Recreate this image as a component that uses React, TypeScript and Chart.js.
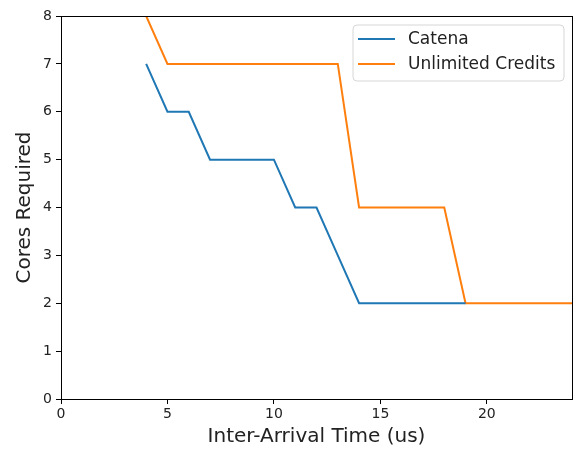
import React, { useEffect, useRef } from "react";
import { Chart, registerables } from "chart.js";

Chart.register(...registerables);

const catenaX = [4, 5, 6, 7, 8, 9, 10, 11, 12, 13, 14, 15, 16, 17, 18, 19];
const catenaY = [7, 6, 6, 5, 5, 5, 5, 4, 4, 3, 2, 2, 2, 2, 2, 2];
const unlimitedX = [4, 5, 6, 7, 8, 9, 10, 11, 12, 13, 14, 15, 16, 17, 18, 19, 20, 21, 22, 23, 24];
const unlimitedY = [8, 7, 7, 7, 7, 7, 7, 7, 7, 7, 4, 4, 4, 4, 4, 2, 2, 2, 2, 2, 2];
const seriesLabels = ["Catena", "Unlimited Credits"];
const seriesColors = ["#1f77b4", "#ff7f0e"];
const xTicks = [0, 5, 10, 15, 20];
const yTicks = [0, 1, 2, 3, 4, 5, 6, 7, 8];
const xTitle = "Inter-Arrival Time (us)";
const yTitle = "Cores Required";

const FONT = "'DejaVu Sans', sans-serif";

const framePlugin = {
  id: "frame",
  afterDraw(chart: any) {
    const { ctx, chartArea } = chart;
    ctx.save();
    ctx.strokeStyle = "#000";
    ctx.lineWidth = 1;
    ctx.strokeRect(
      Math.round(chartArea.left) + 0.5,
      Math.round(chartArea.top) + 0.5,
      Math.round(chartArea.right - chartArea.left),
      Math.round(chartArea.bottom - chartArea.top)
    );
    // legend
    const bx = 353, by = 25, bw = 211, bh = 56, r = 4;
    ctx.beginPath();
    ctx.moveTo(bx + r, by);
    ctx.lineTo(bx + bw - r, by);
    ctx.arcTo(bx + bw, by, bx + bw, by + r, r);
    ctx.lineTo(bx + bw, by + bh - r);
    ctx.arcTo(bx + bw, by + bh, bx + bw - r, by + bh, r);
    ctx.lineTo(bx + r, by + bh);
    ctx.arcTo(bx, by + bh, bx, by + bh - r, r);
    ctx.lineTo(bx, by + r);
    ctx.arcTo(bx, by, bx + r, by, r);
    ctx.closePath();
    ctx.fillStyle = "rgba(255,255,255,0.8)";
    ctx.fill();
    ctx.strokeStyle = "#d6d6d6";
    ctx.lineWidth = 1;
    ctx.stroke();
    ctx.font = `17px ${FONT}`;
    ctx.textBaseline = "middle";
    const rows = [39, 64];
    seriesLabels.forEach((lab, i) => {
      ctx.strokeStyle = seriesColors[i];
      ctx.lineWidth = 2;
      ctx.beginPath();
      ctx.moveTo(358, rows[i]);
      ctx.lineTo(395, rows[i]);
      ctx.stroke();
      ctx.fillStyle = "#222";
      ctx.fillText(lab, 408, rows[i] + 1);
    });
    ctx.restore();
  },
};

export default function App() {
  const ref = useRef<HTMLCanvasElement>(null);
  useEffect(() => {
    if (!ref.current) return;
    const chart = new Chart(ref.current, {
      type: "scatter",
      data: {
        datasets: [
          {
            label: seriesLabels[0],
            data: catenaX.map((x, i) => ({ x, y: catenaY[i] })),
            borderColor: seriesColors[0],
            backgroundColor: seriesColors[0],
            showLine: true,
            borderWidth: 2,
            pointRadius: 0,
            tension: 0,
          },
          {
            label: seriesLabels[1],
            data: unlimitedX.map((x, i) => ({ x, y: unlimitedY[i] })),
            borderColor: seriesColors[1],
            backgroundColor: seriesColors[1],
            showLine: true,
            borderWidth: 2,
            pointRadius: 0,
            tension: 0,
          },
        ],
      },
      options: {
        animation: false,
        responsive: false,
        devicePixelRatio: 1,
        layout: { padding: { top: 16, right: 5, left: 0, bottom: 0 } },
        plugins: { legend: { display: false }, tooltip: { enabled: false } },
        scales: {
          x: {
            type: "linear",
            min: 0,
            max: 24,
            afterBuildTicks: (s: any) => {
              s.ticks = xTicks.map((v) => ({ value: v }));
            },
            afterFit: (s: any) => {
              s.height = 50;
            },
            border: { color: "#000", width: 1 },
            grid: { drawOnChartArea: false, drawTicks: true, tickLength: 5, color: "#000" },
            ticks: { color: "#222", font: { family: FONT, size: 14 }, padding: 2, maxRotation: 0 },
            title: {
              display: true,
              text: xTitle,
              color: "#222",
              font: { family: FONT, size: 20 },
              padding: { top: 0, bottom: 0 },
            },
          },
          y: {
            type: "linear",
            min: 0,
            max: 8,
            afterBuildTicks: (s: any) => {
              s.ticks = yTicks.map((v) => ({ value: v }));
            },
            afterFit: (s: any) => {
              s.width = 61;
            },
            border: { color: "#000", width: 1 },
            grid: { drawOnChartArea: false, drawTicks: true, tickLength: 5, color: "#000" },
            ticks: { color: "#222", font: { family: FONT, size: 14 }, padding: 4 },
            title: {
              display: true,
              text: yTitle,
              color: "#222",
              font: { family: FONT, size: 20 },
              padding: { top: 13, bottom: 0 },
            },
          },
        },
      },
      plugins: [framePlugin],
    } as any);
    return () => chart.destroy();
  }, []);
  return (
    <div style={{ position: "absolute", left: 0, top: 0, width: 577, height: 449, background: "#fff" }}>
      <canvas ref={ref} width={577} height={449} />
    </div>
  );
}
